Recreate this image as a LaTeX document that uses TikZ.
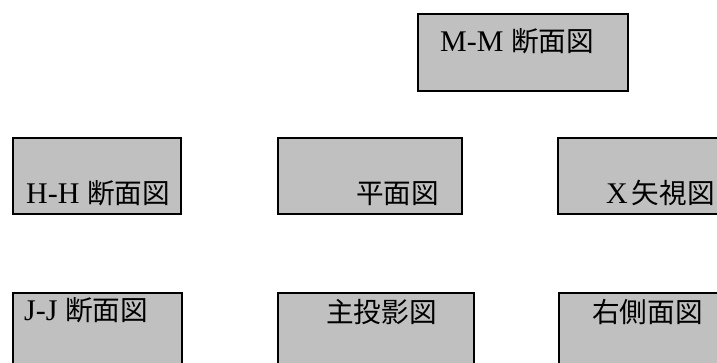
\documentclass[tikz,border=0pt]{standalone}
\usepackage{fontspec}
\setmainfont{Liberation Serif}
\newfontfamily\jp[Scale=0.92]{Noto Sans CJK JP}
\begin{document}
\begin{tikzpicture}[x=1pt,y=-1pt,
  panel/.style={draw=black,line width=1.7pt,fill={rgb,255:red,192;green,192;blue,192},rectangle,anchor=north west,inner sep=0pt},
  lbl/.style={anchor=base west,inner sep=0pt,font=\fontsize{30}{34}\selectfont}]
\useasboundingbox (0,0) rectangle (717,363);
\clip (0,0) rectangle (717,363);
\node[panel,minimum width=210pt,minimum height=77pt] (mm) at (417,13) {};
\node[lbl] (mmt) at (440,52) {M-M {\jp 断面図}};
\node[panel,minimum width=168pt,minimum height=76pt] (hh) at (12,137) {};
\node[lbl] (hht) at (26,204) {H-H {\jp 断面図}};
\node[panel,minimum width=184pt,minimum height=76pt] (pl) at (277,137) {};
\node[lbl] (plt) at (356,204) {{\jp 平面図}};
\node[panel,minimum width=190pt,minimum height=76pt] (xv) at (557,137) {};
\node[lbl] (xvt) at (606,204) {X\hspace{4pt}{\jp 矢視図}};
\node[panel,minimum width=169pt,minimum height=90pt] (jj) at (12,292) {};
\node[lbl] (jjt) at (24,320) {J-J {\jp 断面図}};
\node[panel,minimum width=196pt,minimum height=90pt] (sh) at (277,292) {};
\node[lbl] (sht) at (326,322) {{\jp 主投影図}};
\node[panel,minimum width=190pt,minimum height=90pt] (rs) at (558,292) {};
\node[lbl] (rst) at (592,322) {{\jp 右側面図}};
\end{tikzpicture}
\end{document}
